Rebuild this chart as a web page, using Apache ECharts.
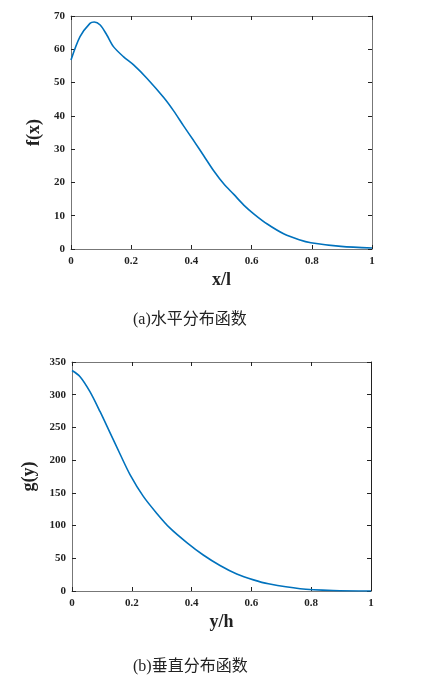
<!DOCTYPE html>
<html><head><meta charset="utf-8">
<script src="https://cdn.jsdelivr.net/npm/echarts@6/dist/echarts.min.js"></script>
<style>html,body{margin:0;padding:0;background:#fff}#c{width:435px;height:684px}</style>
</head><body><div id="c"></div>
<script>
// Horizontal distribution f(x) vs x/l
const fX = [0, 0.03, 0.063, 0.077, 0.097, 0.119, 0.141, 0.174, 0.208, 0.252, 0.308, 0.341, 0.374, 0.408, 0.441, 0.474, 0.508, 0.541, 0.574, 0.608, 0.652, 0.708, 0.758, 0.797, 0.897, 1.0];
const fY = [56.8, 63.8, 67.8, 68.2, 67.3, 64.3, 60.8, 57.8, 55.3, 51.3, 45.5, 41.5, 37.0, 32.5, 28.0, 23.5, 19.5, 16.4, 13.2, 10.5, 7.5, 4.5, 2.8, 1.9, 0.8, 0.3];
// Vertical distribution g(y) vs y/h
const gX = [0, 0.027, 0.06, 0.094, 0.127, 0.161, 0.194, 0.238, 0.283, 0.328, 0.384, 0.439, 0.495, 0.551, 0.607, 0.657, 0.763, 0.873, 1.0];
const gY = [337, 327.6, 304.7, 274, 242, 209, 178, 145, 119, 96, 74, 55, 39, 26, 17, 11, 3.5, 0.8, 0];
const xTicks = [0, 0.2, 0.4, 0.6, 0.8, 1];
const captionA = '(a)水平分布函数';
const captionB = '(b)垂直分布函数';

const serif = '"Liberation Serif","Times New Roman","Noto Sans CJK SC",serif';
const axisCol = '#777';
const lineCol = '#0072BD';

function xAxisBottom(gi, name) {
  return {type:'value', gridIndex:gi, min:0, max:1, interval:0.2, position:'bottom',
    name:name, nameLocation:'middle', nameGap:22,
    nameTextStyle:{fontFamily:serif, fontWeight:'bold', fontSize:18, color:'#222'},
    axisLine:{onZero:false, lineStyle:{color:axisCol, width:1}},
    axisTick:{inside:true, length:4, lineStyle:{color:'#222'}},
    axisLabel:{fontFamily:serif, fontWeight:'bold', fontSize:11, color:'#222', margin:7,
      formatter:v=>String(+v.toFixed(1))},
    splitLine:{show:false}};
}
function xAxisTop(gi) {
  return {type:'value', gridIndex:gi, min:0, max:1, interval:0.2, position:'top',
    axisLine:{onZero:false, lineStyle:{color:axisCol, width:1}},
    axisTick:{inside:true, length:4, lineStyle:{color:'#222'}},
    axisLabel:{show:false}, splitLine:{show:false}};
}
function yAxisLeft(gi, max, interval, name, gap) {
  return {type:'value', gridIndex:gi, min:0, max:max, interval:interval, position:'left',
    name:name, nameLocation:'middle', nameGap:gap, nameRotate:90,
    nameTextStyle:{fontFamily:serif, fontWeight:'bold', fontSize:18, color:'#222'},
    axisLine:{show:true, onZero:false, lineStyle:{color:axisCol, width:1}},
    axisTick:{show:true, inside:true, length:4, lineStyle:{color:'#222'}},
    axisLabel:{fontFamily:serif, fontWeight:'bold', fontSize:11, color:'#222', margin:6},
    splitLine:{show:false}};
}
function yAxisRight(gi, max, interval, col) {
  return {type:'value', gridIndex:gi, min:0, max:max, interval:interval, position:'right',
    axisLine:{show:true, onZero:false, lineStyle:{color:col, width:1}},
    axisTick:{show:true, inside:true, length:4, lineStyle:{color:'#222'}},
    axisLabel:{show:false}, splitLine:{show:false}};
}

const chart = echarts.init(document.getElementById('c'), null, {renderer:'canvas'});
chart.setOption({
  backgroundColor:'#fff',
  animation:false,
  grid:[
    {left:71, top:16, width:301, height:233},
    {left:72, top:362, width:299, height:229}
  ],
  xAxis:[xAxisBottom(0,'x/l'), xAxisTop(0), xAxisBottom(1,'y/h'), xAxisTop(1)],
  yAxis:[yAxisLeft(0,70,10,'f(x)',22), yAxisRight(0,70,10,axisCol),
         yAxisLeft(1,350,50,'g(y)',27), yAxisRight(1,350,50,'#222')],
  series:[
    {type:'line', xAxisIndex:0, yAxisIndex:0, data:fX.map((x,i)=>[x,fY[i]]),
     smooth:0.3, showSymbol:false, lineStyle:{color:lineCol, width:1.6}},
    {type:'line', xAxisIndex:2, yAxisIndex:2, data:gX.map((x,i)=>[x,gY[i]]),
     smooth:0.3, showSymbol:false, lineStyle:{color:lineCol, width:1.6}}
  ],
  graphic:[
    {type:'text', left:133, top:312, style:{text:captionA, fontFamily:serif, fontSize:16, fill:'#222'}},
    {type:'text', left:133, top:659, style:{text:captionB, fontFamily:serif, fontSize:16, fill:'#222'}}
  ]
});
</script></body></html>
